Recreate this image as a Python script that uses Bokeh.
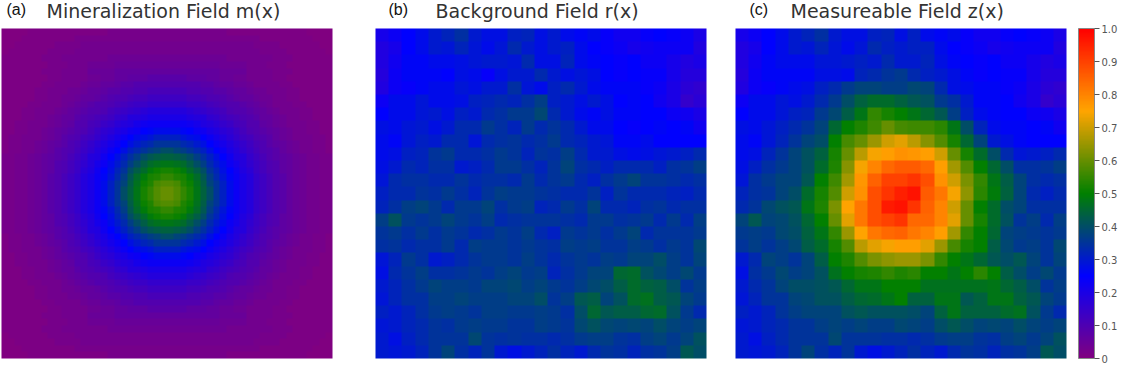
from bokeh.plotting import figure
from bokeh.models import LinearColorMapper, ColorBar, FixedTicker, Label
from bokeh.embed import file_html
from bokeh.resources import INLINE
import numpy as np

# one quadrant (centre -> edge) of the mineralization field, hundredths
mineral_quadrant = [
[60,58,55,52,48,44,40,35,31,27,23,20,18,15,13,11,9,8,6,5,4,3,3,2,2],
[58,57,53,51,47,43,38,35,31,27,23,20,18,15,13,11,9,8,6,5,4,3,3,2,2],
[55,53,52,49,46,42,37,33,29,26,23,20,18,15,13,11,9,8,6,5,4,3,3,2,2],
[52,51,49,46,43,40,35,32,28,25,22,19,17,14,12,10,9,7,6,5,4,3,3,2,2],
[48,47,46,43,40,37,33,30,27,23,21,18,16,14,12,10,9,7,6,5,4,3,3,2,2],
[44,43,42,40,37,34,31,28,25,22,19,18,15,13,11,9,8,7,6,5,4,3,3,2,2],
[40,38,37,35,33,31,28,25,23,20,18,16,14,12,10,9,8,6,5,4,3,3,2,2,1],
[35,35,33,32,30,28,25,23,21,19,17,15,13,11,10,8,7,6,5,4,3,3,2,2,1],
[31,31,29,28,27,25,23,21,19,17,15,13,12,10,9,8,6,5,4,3,3,3,2,2,1],
[27,27,26,25,23,22,20,19,17,16,14,12,10,9,8,7,6,5,4,3,3,2,2,1,1],
[23,23,23,22,21,19,18,17,15,14,12,11,9,9,7,6,5,4,3,3,3,2,2,1,1],
[20,20,20,19,18,18,16,15,13,12,11,10,9,8,6,6,5,4,3,3,2,2,1,1,1],
[18,18,18,17,16,15,14,13,12,10,9,9,8,7,6,5,4,3,3,3,2,2,1,1,1],
[15,15,15,14,14,13,12,11,10,9,9,8,7,6,5,4,3,3,3,2,2,1,1,1,1],
[13,13,13,12,12,11,10,10,9,8,7,6,6,5,4,4,3,3,2,2,1,1,1,1,1],
[11,11,11,10,10,9,9,8,8,7,6,6,5,4,4,3,3,3,2,2,1,1,1,1,1],
[9,9,9,9,9,8,8,7,6,6,5,5,4,3,3,3,3,2,2,1,1,1,1,1,1],
[8,8,8,7,7,7,6,6,5,5,4,4,3,3,3,3,2,2,1,1,1,1,1,1,1],
[6,6,6,6,6,6,6,6,5,5,5,5,3,3,3,3,2,2,2,1,1,1,1,1,1],
[5,5,5,5,5,5,5,5,4,4,4,4,3,3,3,2,2,2,1,1,1,1,1,1,1],
[4,4,4,4,4,4,4,4,4,3,3,3,3,3,3,3,2,2,2,1,1,1,1,1,1],
[3,3,3,3,3,3,3,3,3,3,3,3,3,3,2,2,2,2,1,1,1,1,1,1,0],
[3,3,3,3,3,3,3,3,3,3,3,3,3,2,2,2,2,1,1,1,1,1,1,0,0],
[2,2,2,2,2,2,2,2,2,2,2,2,2,2,1,1,1,1,1,1,1,1,0,0,0],
[2,2,2,2,2,2,2,2,2,1,1,1,1,1,1,1,1,1,1,1,1,0,0,0,0],
]

background_rows = [
[21,23,25,27,30,32,34,30,28,28,31,32,28,30,27,26,27,24,22,22,24,25,24,23,20],
[19,21,25,27,30,29,32,29,27,29,33,30,28,30,31,27,25,24,23,21,22,23,23,23,19],
[19,22,26,26,27,27,28,29,30,30,29,33,28,28,32,27,26,25,24,25,23,23,21,19,20],
[18,23,26,26,26,25,28,27,24,28,30,30,33,30,28,29,28,25,24,25,24,24,21,18,18],
[19,23,24,26,27,27,29,28,30,30,34,29,27,31,33,30,27,26,26,26,24,23,20,17,16],
[23,27,27,29,27,27,28,31,32,33,32,34,37,31,30,28,30,28,25,26,25,22,20,15,17],
[25,27,27,29,30,28,31,30,33,34,36,36,39,33,30,27,26,28,26,26,25,25,23,22,20],
[28,27,29,30,28,30,33,33,36,34,32,36,33,35,33,30,27,27,25,24,25,26,25,26,22],
[27,26,29,31,30,33,33,29,33,34,35,33,34,36,33,32,30,29,26,26,27,25,25,25,25],
[27,28,31,32,35,36,33,33,34,36,35,32,35,34,37,33,30,30,28,27,28,29,30,31,33],
[28,30,33,32,34,34,30,31,33,36,36,34,32,35,38,34,33,31,33,33,33,31,34,35,37],
[29,33,34,34,33,33,35,33,34,34,33,36,33,35,36,33,31,34,36,38,35,35,34,33,34],
[31,33,33,35,34,36,34,32,35,37,36,36,35,34,33,33,35,31,35,33,33,33,32,31,33],
[32,34,37,38,36,33,36,36,38,34,36,37,32,33,36,34,38,33,33,32,34,35,33,34,34],
[37,41,36,35,36,38,36,35,37,33,34,35,35,35,34,33,36,36,34,35,36,33,36,33,37],
[35,36,34,36,34,36,35,33,34,36,35,37,33,31,36,35,36,34,36,38,33,35,35,35,36],
[34,35,33,34,34,36,33,37,36,36,35,36,35,34,37,36,37,35,35,37,36,34,36,35,39],
[29,32,36,34,30,31,33,35,36,36,35,37,35,33,35,36,35,37,36,38,38,40,37,35,38],
[28,33,35,37,34,34,35,36,35,37,38,36,37,32,34,36,38,38,45,46,41,39,37,39,36],
[30,32,34,36,38,37,37,36,38,38,39,37,38,36,35,37,39,40,43,46,44,43,40,35,37],
[29,32,34,34,37,37,38,37,37,37,38,38,40,35,37,42,43,38,41,46,47,43,42,38,36],
[31,30,32,34,36,37,36,35,37,37,36,36,37,36,34,40,45,42,43,43,45,46,41,36,33],
[29,30,32,33,35,34,36,37,36,36,35,35,37,36,35,39,41,39,38,39,38,40,38,37,38],
[30,28,31,33,35,35,35,39,35,34,35,34,34,33,34,36,37,37,35,34,37,38,36,38,41],
[30,29,30,32,35,38,34,32,35,30,28,30,32,34,32,30,33,35,34,32,34,35,37,42,40],
]

measurable_rows = [
[21,23,25,27,30,32,34,30,28,28,31,32,28,31,27,26,27,24,22,22,24,25,24,23,20],
[19,21,25,27,30,29,32,29,27,29,33,31,30,31,31,27,25,24,23,21,22,23,23,23,19],
[19,22,26,27,27,27,29,29,30,31,30,33,30,30,32,28,26,25,24,25,23,23,21,19,20],
[18,23,26,26,26,26,28,28,27,32,33,35,36,33,31,30,28,26,24,25,24,24,21,18,18],
[19,23,24,26,27,28,31,33,36,38,38,37,37,39,38,33,28,27,26,26,24,23,20,17,16],
[23,27,27,29,28,30,33,36,40,44,46,46,44,42,41,36,34,30,26,26,25,22,20,15,17],
[25,27,27,29,31,32,36,39,43,48,55,52,50,48,45,42,37,31,27,26,25,25,23,22,20],
[28,27,29,31,33,35,38,45,50,53,56,60,57,56,56,54,48,40,32,27,26,26,25,26,22],
[27,26,29,32,35,38,40,50,57,60,65,70,72,68,63,58,52,45,38,30,28,26,25,25,25],
[27,28,32,35,38,41,44,52,60,68,74,76,78,77,76,70,60,52,46,40,33,29,30,31,33],
[28,31,34,36,38,41,46,53,63,74,80,84,86,86,84,76,66,58,50,45,40,34,34,35,37],
[29,34,36,38,38,42,50,56,66,77,85,90,90,92,88,78,70,62,55,48,43,38,34,33,34],
[32,34,35,38,40,46,52,58,70,78,88,92,95,97,86,82,74,64,54,49,44,38,33,31,33],
[33,35,39,41,42,48,53,62,75,82,88,96,97,92,85,80,70,60,50,46,40,38,34,34,34],
[38,42,38,39,41,45,50,60,72,82,88,90,92,84,84,80,72,60,52,46,41,35,37,33,37],
[36,37,36,39,40,44,48,55,65,75,82,84,85,82,80,76,66,55,50,45,38,37,36,35,36],
[35,37,35,37,39,43,46,52,58,68,72,74,76,76,72,65,57,52,50,43,39,36,37,35,39],
[30,33,38,37,35,38,43,50,53,58,62,64,65,65,62,55,50,48,45,42,40,42,38,35,38],
[28,34,36,39,37,38,41,47,50,52,53,55,53,54,50,50,48,50,54,50,43,40,37,39,36],
[30,33,35,38,40,40,41,42,45,48,48,50,50,50,47,47,47,47,47,48,45,43,40,35,37],
[29,32,35,35,38,39,41,41,43,45,46,48,50,44,44,48,48,42,44,48,48,44,42,38,36],
[31,30,32,35,37,38,38,38,41,42,41,41,41,40,38,44,48,44,44,44,46,47,41,36,33],
[29,30,32,33,35,35,37,38,37,38,37,37,39,38,37,40,42,40,38,39,38,40,38,37,38],
[30,28,31,33,35,35,35,39,35,35,35,34,34,33,34,36,37,37,35,34,37,38,36,38,41],
[30,29,30,32,35,38,34,32,35,30,28,30,32,34,32,30,33,35,34,32,34,35,37,42,40],
]

panel_letters = ["(a)", "(b)", "(c)"]
panel_titles = ["Mineralization Field m(x)", "Background Field r(x)", "Measureable Field z(x)"]
colorbar_ticks = [0, 0.1, 0.2, 0.3, 0.4, 0.5, 0.6, 0.7, 0.8, 0.9, 1.0]
colorbar_labels = ["0", "0.1", "0.2", "0.3", "0.4", "0.5", "0.6", "0.7", "0.8", "0.9", "1.0"]

stops = np.array([[128,0,128],[0,0,255],[0,128,0],[255,165,0],[255,0,0]], float)
pos = np.linspace(0, 1, 5)
t = np.linspace(0, 1, 256)
palette = ["#%02x%02x%02x" % tuple(int(round(np.interp(v, pos, stops[:, c]))) for c in range(3)) for v in t]
mapper = LinearColorMapper(palette=palette, low=0, high=1)

W, H = 1121, 366
p = figure(width=W, height=H, x_range=(0, W), y_range=(H, 0), min_border=0,
           toolbar_location=None, output_backend="svg",
           outline_line_color=None, background_fill_color="white", border_fill_color="white")
p.axis.visible = False
p.grid.visible = False

q = np.array(mineral_quadrant, float) / 100
top = np.hstack([q[:, ::-1], q])
mineral = np.vstack([top[::-1], top])
fields = [mineral, np.array(background_rows, float) / 100, np.array(measurable_rows, float) / 100]

lefts = [1, 375, 735]
size_x, size_y = 331, 330
top_y = 28
for arr, x0 in zip(fields, lefts):
    p.image(image=[arr], x=x0, y=top_y, dw=size_x, dh=size_y, color_mapper=mapper)

letter_x = [6, 388, 749]
title_x = [46, 435, 790]
for lx, tx, let, tit in zip(letter_x, title_x, panel_letters, panel_titles):
    p.add_layout(Label(x=lx, y=9, text=let, text_font="Liberation Sans",
                       text_font_size="16px", text_color="#111111", text_baseline="middle", text_align="left"))
    p.add_layout(Label(x=tx, y=10, text=tit, text_font="DejaVu Sans",
                       text_font_size="19px", text_color="#333333", text_baseline="middle", text_align="left"))

cb = ColorBar(color_mapper=mapper, width=16, height=330, location=(1078, 8),
              ticker=FixedTicker(ticks=colorbar_ticks),
              major_label_overrides={k: v for k, v in zip(colorbar_ticks, colorbar_labels)},
              major_tick_in=0, major_tick_out=5, major_tick_line_color="#555555",
              bar_line_color="#888888", major_label_text_font="DejaVu Sans",
              major_label_text_font_size="10px", major_label_text_color="#555555",
              background_fill_color=None, border_line_color=None, padding=0, label_standoff=2)
p.add_layout(cb, "center")

open("out.html", "w").write(file_html(p, INLINE))
